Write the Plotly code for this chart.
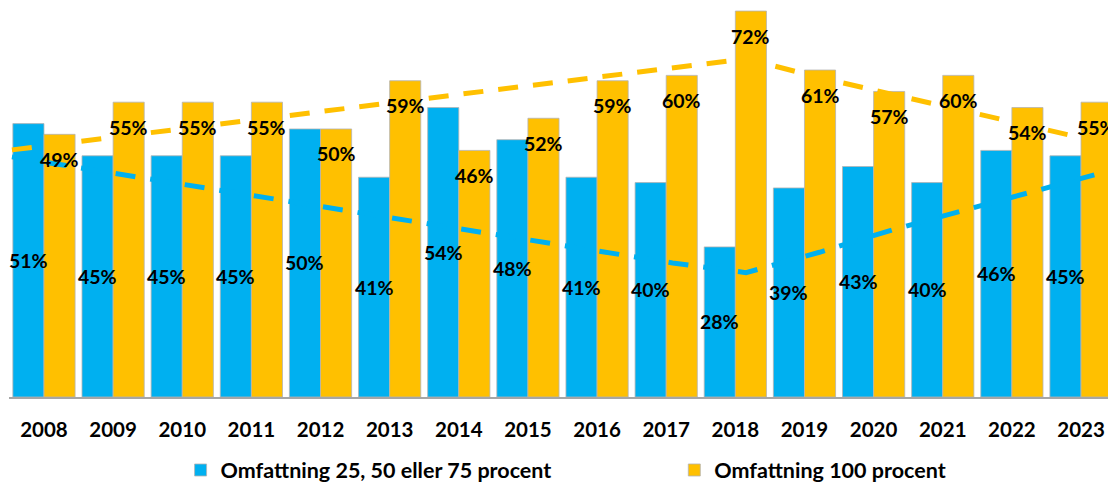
import plotly.graph_objects as go

years = [2008, 2009, 2010, 2011, 2012, 2013, 2014, 2015, 2016, 2017, 2018, 2019, 2020, 2021, 2022, 2023]
tick_labels = [str(y) for y in years]
partial = [51, 45, 45, 45, 50, 41, 54, 48, 41, 40, 28, 39, 43, 40, 46, 45]
full = [49, 55, 55, 55, 50, 59, 46, 52, 59, 60, 72, 61, 57, 60, 54, 55]
# dashed trend lines
partial_trend = [44.8, 42.6, 40.4, 38.2, 36.0, 33.8, 31.5, 29.3, 27.2, 25.0, 23.2, 27.0, 31.2, 34.9, 38.6, 42.4]
full_trend = [46.1, 47.8, 49.5, 51.2, 52.9, 54.6, 56.3, 58.0, 59.7, 61.4, 63.1, 59.6, 56.4, 53.3, 50.2, 47.0]

name_partial = "Omfattning 25, 50 eller 75 procent"
name_full = "Omfattning 100 procent"

BLUE = "#00B0F0"
YELLOW = "#FFC000"
FONT = "Lato"

fig = go.Figure()
fig.add_trace(go.Bar(x=years, y=partial, name=name_partial, offset=-0.45, width=0.45,
                     marker=dict(color=BLUE, line=dict(color="#b4b4b4", width=0.8)),
                     legend="legend", hoverinfo="skip"))
fig.add_trace(go.Bar(x=years, y=full, name=name_full, offset=0.0, width=0.45,
                     marker=dict(color=YELLOW, line=dict(color="#b4b4b4", width=0.8)),
                     legend="legend2", hoverinfo="skip"))
fig.add_trace(go.Scatter(x=years, y=partial_trend, mode="lines", xaxis="x2", showlegend=False,
                         line=dict(color=BLUE, width=5, dash="20px,15px")))
fig.add_trace(go.Scatter(x=years, y=full_trend, mode="lines", xaxis="x2", showlegend=False,
                         line=dict(color=YELLOW, width=5, dash="20px,15px")))

for yr, v in zip(years, partial):
    fig.add_annotation(x=yr - 0.225, y=v / 2, text=f"<b>{v}%</b>", showarrow=False,
                       xanchor="center", yanchor="middle",
                       font=dict(family=FONT, size=19.5, color="#000000"))
for yr, v in zip(years, full):
    fig.add_annotation(x=yr + 0.225, y=v, yshift=-25, text=f"<b>{v}%</b>", showarrow=False,
                       xanchor="center", yanchor="middle",
                       font=dict(family=FONT, size=19.5, color="#000000"))

legend_common = dict(orientation="h", xanchor="left", y=-0.1877, yanchor="middle",
                     font=dict(family=FONT, size=21.5, color="#000000", weight="bold"),
                     bgcolor="rgba(0,0,0,0)")

fig.update_layout(
    width=1108, height=474,
    margin=dict(l=1, r=0, t=0, b=85, autoexpand=False),
    paper_bgcolor="white", plot_bgcolor="white",
    barmode="overlay",
    showlegend=True,
    legend=dict(x=0.155, **legend_common),
    legend2=dict(x=0.601, **legend_common),
    xaxis=dict(range=[2007.494, 2023.506], tickvals=years, ticktext=tick_labels,
               showgrid=False, zeroline=False, showline=True, linecolor="#a6a6a6", linewidth=2,
               ticks="", ticklabelstandoff=13, automargin=False,
               tickfont=dict(family=FONT, size=20.5, color="#000000", weight="bold")),
    xaxis2=dict(range=[2007.96, 2023.04], overlaying="x", visible=False),
    yaxis=dict(range=[0, 72.57], visible=False, showgrid=False, zeroline=False, automargin=False),
)

fig.write_html("out.html")
